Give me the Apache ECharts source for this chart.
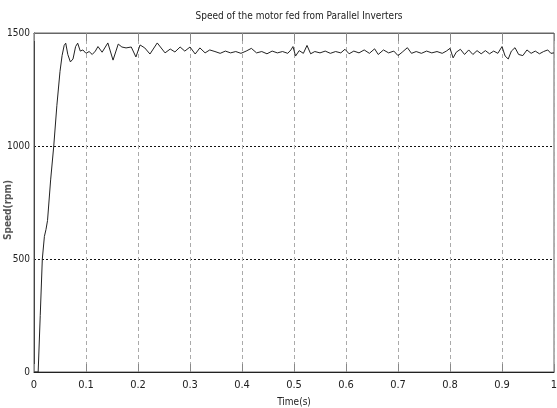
<!DOCTYPE html>
<html>
<head>
<meta charset="utf-8">
<script src="https://cdn.jsdelivr.net/npm/echarts@6/dist/echarts.min.js"></script>
<style>
html,body{margin:0;padding:0;background:#fff;}
#chart{width:557px;height:408px;}
</style>
</head>
<body>
<div id="chart"></div>
<script>
var titleText = "Speed of the motor fed from Parallel Inverters";
var xAxisName = "Time(s)";
var yAxisName = "Speed(rpm)";

var timeS = [0, 0.008, 0.012, 0.016, 0.020, 0.023, 0.026, 0.032, 0.038, 0.044, 0.050, 0.054, 0.058, 0.061, 0.065, 0.070, 0.075, 0.080, 0.084, 0.089, 0.094, 0.100, 0.106, 0.112, 0.118, 0.123, 0.131, 0.142, 0.152, 0.162, 0.169, 0.177, 0.187, 0.196, 0.204, 0.213, 0.223, 0.237, 0.252, 0.262, 0.271, 0.281, 0.290, 0.300, 0.310, 0.319, 0.329, 0.338,
  0.348, 0.358, 0.368, 0.378, 0.388, 0.398, 0.408, 0.418, 0.428, 0.438, 0.448, 0.458, 0.468, 0.478, 0.488, 0.494, 0.498, 0.503, 0.510, 0.518, 0.525, 0.532, 0.540, 0.550, 0.560, 0.570, 0.580, 0.590, 0.598, 0.606, 0.615, 0.625, 0.635, 0.645, 0.655, 0.662, 0.672, 0.682, 0.692, 0.700, 0.708, 0.718, 0.726, 0.735, 0.745, 0.755, 0.765, 0.775, 0.785, 0.793, 0.800, 0.806, 0.812, 0.820, 0.828, 0.836, 0.844, 0.852, 0.860, 0.868, 0.876, 0.884, 0.892, 0.900, 0.906, 0.912, 0.918, 0.925, 0.932, 0.940, 0.948, 0.956, 0.964, 0.972, 0.980, 0.988, 0.994, 1.000];

var speedRpm = [0, 0, 250, 500, 600, 630, 670, 850, 1000, 1180, 1330, 1400, 1445, 1455, 1405, 1372, 1385, 1440, 1455, 1420, 1425, 1410, 1418, 1405, 1420, 1440, 1415, 1456, 1380, 1451, 1438, 1434, 1438, 1394, 1447, 1434, 1407, 1456, 1412, 1429, 1416, 1438, 1420, 1438, 1407, 1434, 1412, 1425,
  1418, 1410, 1420, 1412, 1418, 1410, 1420, 1432, 1412, 1418, 1408, 1420, 1412, 1418, 1410, 1425, 1440, 1398, 1422, 1410, 1445, 1408, 1418, 1412, 1420, 1410, 1418, 1412, 1428, 1408, 1420, 1412, 1425, 1410, 1430, 1405, 1425, 1412, 1420, 1400, 1415, 1435, 1410, 1418, 1410, 1420, 1412, 1418, 1410, 1420, 1432, 1390, 1415, 1428, 1405, 1425, 1405, 1422, 1408, 1422, 1408, 1420, 1410, 1440, 1398, 1385, 1420, 1435, 1405, 1400, 1425, 1410, 1420, 1408, 1418, 1425, 1410, 1412];

var xTicks = [0, 1, 0.1];   // min, max, interval
var yTicks = [0, 1500, 500];

var seriesData = timeS.map(function (t, i) { return [t, speedRpm[i]]; });
var narrow = '"Liberation Sans Narrow", "DejaVu Sans Condensed", "Arial Narrow", sans-serif';

var chart = echarts.init(document.getElementById('chart'), null, {renderer: 'canvas'});
chart.setOption({
  animation: false,
  backgroundColor: '#fff',
  title: {
    text: titleText,
    left: 294, top: 6, textAlign: 'center',
    textStyle: {fontFamily: narrow, fontSize: 10, fontWeight: 'normal', color: '#222'}
  },
  graphic: [{
    type: 'text', left: 3, top: 180, rotation: Math.PI / 2, 
    style: {text: yAxisName, fontFamily: narrow, fontSize: 10, fontWeight: 'bold', fill: '#555',
            textAlign: 'center', textVerticalAlign: 'middle'}
  }],
  grid: {left: 34, right: 3, top: 33, bottom: 36, containLabel: false, outerBoundsMode: 'none',
         show: true, borderColor: '#666', borderWidth: 1},
  xAxis: [{
    type: 'value', min: xTicks[0], max: xTicks[1], interval: xTicks[2],
    name: xAxisName, nameLocation: 'middle', nameGap: 25,
    nameTextStyle: {fontFamily: narrow, fontSize: 10, color: '#222'},
    axisLine: {show: true, lineStyle: {color: '#222', width: 1}},
    axisTick: {show: true, inside: true, length: 8, lineStyle: {color: '#888'}},
    axisLabel: {fontFamily: narrow, fontSize: 11, color: '#222', margin: 8},
    splitLine: {show: true, lineStyle: {color: '#aaa', type: [4, 3], width: 1}}
  }, {
    type: 'value', position: 'top', min: xTicks[0], max: xTicks[1], interval: xTicks[2],
    axisLine: {show: true, lineStyle: {color: '#666'}},
    axisTick: {show: true, inside: true, length: 8, lineStyle: {color: '#888'}},
    axisLabel: {show: false}, splitLine: {show: false}
  }],
  yAxis: {
    type: 'value', min: yTicks[0], max: yTicks[1], interval: yTicks[2],
    axisLine: {show: true, lineStyle: {color: '#444', width: 1}},
    axisTick: {show: false},
    axisLabel: {fontFamily: narrow, fontSize: 10, color: '#222', margin: 4,
                formatter: function (v) { return String(v); }},
    splitLine: {show: true, lineStyle: {color: '#111', type: [2, 2], width: 1}}
  },
  series: [{
    type: 'line', xAxisIndex: 0, data: seriesData, showSymbol: false, smooth: false,
    lineStyle: {color: '#222', width: 1}
  }]
});
</script>
</body>
</html>
